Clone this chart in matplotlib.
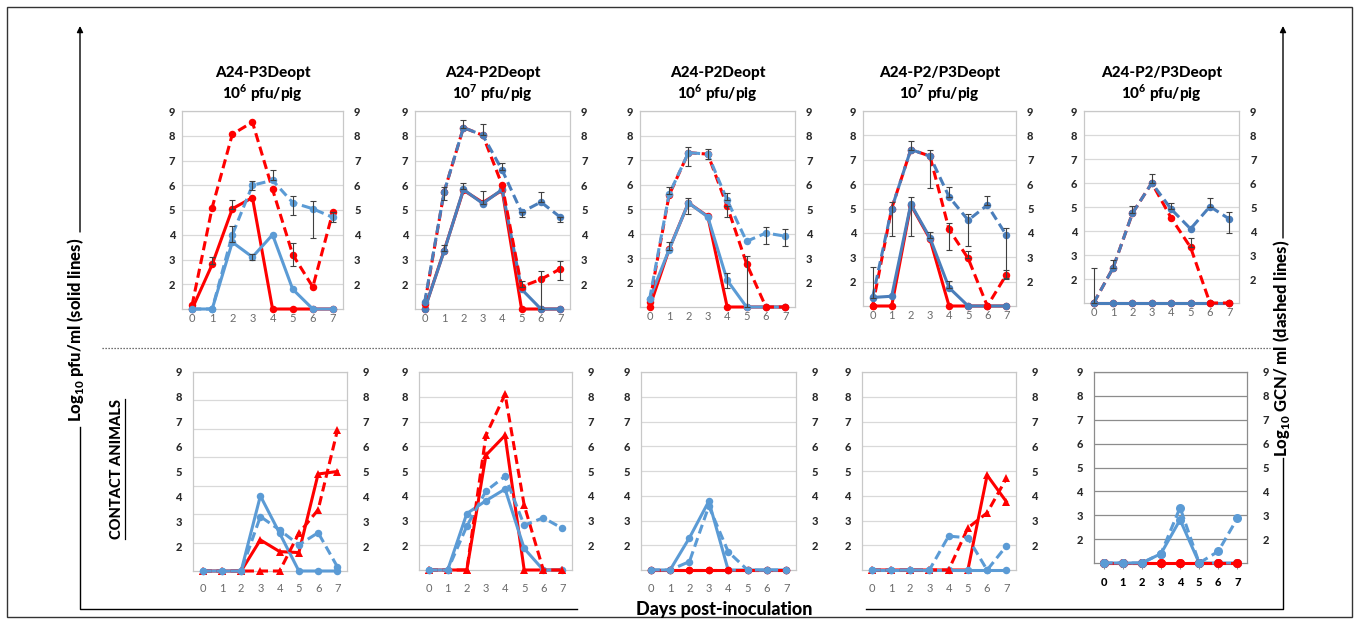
import matplotlib
matplotlib.use("Agg")
import matplotlib.pyplot as plt
from matplotlib.patches import Rectangle

plt.rcParams['font.family'] = ['Lato', 'DejaVu Sans']
plt.rcParams['mathtext.fontset'] = 'custom'
plt.rcParams['mathtext.rm'] = 'Lato'
plt.rcParams['mathtext.bf'] = 'Lato:black'

W, H = 1358, 622
BOLD = 'black'

days = list(range(8))
titles = ["A24-P3Deopt", "A24-P2Deopt", "A24-P2Deopt", "A24-P2/P3Deopt", "A24-P2/P3Deopt"]
doses = ["6", "7", "6", "7", "6"]
y_ticks = list(range(2, 10))

# inoculated animals (top row), log10 values per day
top_red_solid = [
    [1, 2.8, 5.05, 5.5, 1, 1, 1, 1],
    [1, 3.35, 5.8, 5.3, 5.8, 1, 1, 1],
    [1, 3.35, 5.25, 4.7, 1, 1, 1, 1],
    [1, 1, 5.15, 3.75, 1, 1, 1, 1],
    [1, 1, 1, 1, 1, 1, 1, 1],
]
top_blue_solid = [
    [1, 1, 3.7, 3.1, 4.0, 1.8, 1, 1],
    [1, 3.33, 5.83, 5.26, 5.83, 1.8, 1, 1],
    [1.34, 3.34, 5.25, 4.68, 2.09, 1, 1, 1],
    [1.35, 1.4, 5.18, 3.8, 1.75, 1, 1, 1],
    [1, 1, 1, 1, 1, 1, 1, 1],
]
top_red_dash = [
    [1.15, 5.1, 8.06, 8.55, 5.83, 3.2, 1.89, 4.93],
    [1.2, 5.72, 8.33, 8.02, 6.0, 1.9, 2.2, 2.62],
    [1.2, 5.56, 7.3, 7.24, 5.11, 2.77, 1, 1],
    [1.0, 5.0, 7.42, 7.15, 4.14, 2.95, 1, 2.29],
    [1, 2.46, 4.74, 6.0, 4.54, 3.32, 1, 1],
]
top_blue_dash = [
    [1, 1, 4.0, 6.0, 6.2, 5.3, 5.05, 4.7],
    [1.28, 5.72, 8.33, 8.02, 6.61, 4.91, 5.32, 4.71],
    [1.34, 5.6, 7.3, 7.24, 5.36, 3.68, 4.02, 3.89],
    [1.34, 5.0, 7.42, 7.15, 5.48, 4.52, 5.14, 3.9],
    [1, 2.46, 4.74, 6.0, 4.91, 4.09, 5.02, 4.5],
]
# error bars: (series, day, lower, upper)
top_err = [
    [("rs", 1, 0, 0.3), ("rs", 2, 0, 0.35), ("bd", 2, 0.3, 0.35), ("bd", 3, 0.2, 0.17),
     ("bs", 3, 0.13, 0.13), ("bd", 4, 0, 0.4), ("bd", 5, 0.5, 0.25), ("rd", 5, 0.45, 0.45),
     ("bd", 6, 1.2, 0.3), ("bd", 7, 0.2, 0.2)],
    [("bd", 1, 0.3, 0.2), ("bs", 1, 0, 0.27), ("bd", 2, 0, 0.3), ("bs", 2, 0, 0.25),
     ("bd", 3, 0, 0.45), ("bs", 3, 0, 0.5), ("bd", 4, 0, 0.3), ("rd", 5, 0, 0.25),
     ("bd", 5, 0.2, 0), ("bd", 6, 0, 0.4), ("rd", 6, 1.2, 0.35), ("bd", 7, 0.2, 0),
     ("rd", 7, 0.45, 0.3)],
    [("bd", 1, 0, 0.3), ("bs", 1, 0, 0.3), ("bd", 2, 0.55, 0.25), ("bs", 2, 0.45, 0.2),
     ("bd", 3, 0.2, 0.2), ("bd", 4, 0, 0.3), ("rd", 4, 0.45, 0), ("bs", 4, 0.3, 0.3),
     ("rd", 5, 1.77, 0.3), ("bd", 6, 0.45, 0.25), ("bd", 7, 0.4, 0.3)],
    [("bd", 0, 0, 1.26), ("bd", 1, 1.14, 0.27), ("bd", 2, 0, 0.36), ("bs", 2, 1.3, 0.3),
     ("bd", 3, 1.3, 0.27), ("bs", 3, 0, 0.24), ("bd", 4, 0, 0.42), ("rd", 4, 0.85, 0.27),
     ("bs", 4, 0, 0.26), ("bd", 5, 1.05, 0.25), ("rd", 5, 0, 0.3), ("bd", 6, 0, 0.36),
     ("bd", 7, 1.75, 0.28), ("rd", 7, 0.2, 0.2)],
    [("bd", 0, 0, 1.46), ("bd", 1, 0, 0.33), ("bd", 2, 0, 0.3), ("bd", 3, 0, 0.38),
     ("bd", 4, 0, 0.25), ("rd", 5, 0, 0.4), ("bd", 6, 0, 0.35), ("bd", 7, 0.6, 0.3)],
]

# contact animals (bottom row)
bot_red_solid = [
    [1, 1, 1, 2.25, 1.78, 1.74, 4.9, 5.0],
    [1, 1, 1, 5.64, 6.44, 1, 1, 1],
    [1, 1, 1, 1, 1, 1, 1, 1],
    [1, 1, 1, 1, 1, 1, 4.83, 3.76],
    [1, 1, 1, 1, 1, 1, 1, 1],
]
bot_blue_solid = [
    [1, 1, 1, 4.02, 2.52, 1, 1, 1],
    [1, 1, 3.28, 3.8, 4.27, 1.87, 1, 1],
    [1, 1, 2.3, 3.78, 1, 1, 1, 1],
    [1, 1, 1, 1, 1, 1, 1, 1],
    [1, 1, 1, 1.39, 2.81, 1, 1, 1],
]
bot_red_dash = [
    [1, 1, 1, 1, 1, 2.52, 3.46, 6.65],
    [1, 1, 1, 6.44, 8.1, 3.62, 1, 1],
    [1, 1, 1, 1, 1, 1, 1, 1],
    [1, 1, 1, 1, 1, 2.7, 3.31, 4.7],
    [1, 1, 1, 1, 1, 1, 1, 1],
]
bot_blue_dash = [
    [1, 1, 1, 3.19, 2.65, 2.05, 2.54, 1.17],
    [1, 1, 2.77, 4.19, 4.79, 2.81, 3.11, 2.68],
    [1, 1, 1.34, 3.58, 1.74, 1, 1, 1],
    [1, 1, 1, 1, 2.37, 2.3, 1, 1.97],
    [1, 1, 1, 1.39, 3.32, 1, 1.49, 2.88],
]
bot_red_marker = ['^', '^', 'o', '^', 'o']

RED = '#FF0000'
BLUE_LIGHT = '#5B9BD5'
BLUE_DARK = '#4A7EBB'
top_blue = [BLUE_LIGHT, BLUE_DARK, BLUE_LIGHT, BLUE_DARK, BLUE_DARK]

# panel boxes in pixels: left, top, right, bottom
top_boxes = [(182, 111, 343, 309), (415, 111, 570, 309), (640, 111, 795, 307),
             (863, 111, 1016, 306), (1084, 111, 1239, 303)]
bot_boxes = [(193, 372, 347, 571), (419, 372, 572, 570), (641, 372, 796, 570),
             (862, 372, 1016, 570), (1094, 372, 1247, 563)]

DASH = (0, (3, 1.6))

fig = plt.figure(figsize=(W / 100, H / 100), dpi=100)

overlay = fig.add_axes([0, 0, 1, 1], zorder=-1)
overlay.set_xlim(0, W)
overlay.set_ylim(H, 0)
overlay.axis('off')


def make_axes(box):
    l, t, r, b = box
    return fig.add_axes([l / W, 1 - b / H, (r - l) / W, (b - t) / H])


def style_axes(ax, grid_vals, xpad, ypad, dark=False):
    ax.set_xlim(-0.5, 7.5)
    ax.set_ylim(1, 9)
    grid_col = '#8C8C8C' if dark else '#D9D9D9'
    for g in grid_vals:
        ax.axhline(g, color=grid_col, lw=0.9, zorder=0)
    for s in ax.spines.values():
        s.set_color('#8C8C8C' if dark else '#C8C8C8')
        s.set_linewidth(0.9)
    ax.set_xticks(days)
    ax.set_xticklabels([str(d) for d in days])
    ax.tick_params(axis='x', length=4 if dark else 0, direction='out', pad=xpad,
                   labelsize=8, labelcolor='#000000' if dark else '#6A6A6A',
                   color='#8C8C8C')
    if dark:
        for t in ax.get_xticklabels():
            t.set_fontweight(BOLD)
    ax.set_yticks(y_ticks)
    ax.set_yticklabels([str(v) for v in y_ticks], fontweight=BOLD)
    ax.tick_params(axis='y', length=0, pad=ypad, labelsize=8, labelcolor='#2B2B2B')
    sec = ax.secondary_yaxis('right')
    sec.set_ticks(y_ticks, labels=[str(v) for v in y_ticks], fontweight=BOLD)
    sec.tick_params(length=0, pad=ypad + 3, labelsize=8, labelcolor='#2B2B2B')
    sec.spines['right'].set_visible(False)


def draw_lines(ax, rs, bs, rd, bd, blue, red_marker, ms):
    kw = dict(lw=2.2, clip_on=False, markeredgewidth=0)
    ax.plot(days, rs, color=RED, marker=red_marker, ms=ms, zorder=3, **kw)
    ax.plot(days, bs, color=blue, marker='o', ms=ms, zorder=4, **kw)
    ax.plot(days, rd, color=RED, ls=DASH, marker=red_marker, ms=ms, zorder=5, **kw)
    ax.plot(days, bd, color=blue, ls=DASH, marker='o', ms=ms, zorder=6, **kw)


for i in range(5):
    ax = make_axes(top_boxes[i])
    style_axes(ax, y_ticks, xpad=3, ypad=5)
    draw_lines(ax, top_red_solid[i], top_blue_solid[i], top_red_dash[i],
               top_blue_dash[i], top_blue[i], 'o', 5.4)
    series = {'rs': top_red_solid[i], 'bs': top_blue_solid[i],
              'rd': top_red_dash[i], 'bd': top_blue_dash[i]}
    for key, d, lo, hi in top_err[i]:
        ax.errorbar(d, series[key][d], yerr=[[lo], [hi]], fmt='none', ecolor='#404040',
                    elinewidth=0.8, capsize=2.5, capthick=0.8, zorder=7, clip_on=False)
    ax.set_title(titles[i] + "\n10$^\\mathbf{" + doses[i] + "}$ pfu/pig",
                 fontsize=11, fontweight=BOLD, pad=8.5, linespacing=1.2)

for i in range(5):
    ax = make_axes(bot_boxes[i])
    if i == 0:
        grid = [1 + 8 * k / 7 for k in range(1, 8)]
    else:
        grid = y_ticks
    dark = (i == 4)
    style_axes(ax, grid, xpad=9 if not dark else 6, ypad=8, dark=dark)
    ms = 6.5 if dark else 5.4
    draw_lines(ax, bot_red_solid[i], bot_blue_solid[i], bot_red_dash[i],
               bot_blue_dash[i], BLUE_LIGHT, bot_red_marker[i], ms)

# frame, arrows and axis captions
overlay.add_patch(Rectangle((7, 7), 1345, 610, fill=False, ec='#333333', lw=1.0))
arrow = dict(arrowstyle='-|>', color='black', lw=1.0, mutation_scale=9, shrinkA=0, shrinkB=0)
overlay.annotate('', xy=(80, 26), xytext=(80, 232), arrowprops=arrow)
overlay.plot([80, 80, 577], [427, 609, 609], color='black', lw=1.0)
overlay.annotate('', xy=(1283, 26), xytext=(1283, 238), arrowprops=arrow)
overlay.plot([866, 1283, 1283], [609, 609, 458], color='black', lw=1.0)
overlay.plot([102, 1270], [348, 348], color='#444444', lw=0.9, ls=(0, (1, 1.4)))

overlay.text(75, 330, "Log$_\\mathbf{10}$ pfu/ml (solid lines)", rotation=90,
             ha='center', va='center', fontsize=12, fontweight=BOLD)
overlay.text(1281, 348, "Log$_\\mathbf{10}$ GCN/ ml (dashed lines)", rotation=90,
             ha='center', va='center', fontsize=12, fontweight=BOLD)
overlay.text(724, 610, "Days post-inoculation", ha='center', va='center',
             fontsize=13, fontweight=BOLD)
contact = overlay.text(117, 469, "CONTACT ANIMALS", rotation=90, ha='center',
                       va='center', fontsize=10.5, fontweight=BOLD)

fig.canvas.draw()
bb = contact.get_window_extent().transformed(overlay.transData.inverted())
ux = max(bb.x0, bb.x1) + 1
overlay.plot([ux, ux], [bb.y0, bb.y1], color='black', lw=0.9)

fig.savefig("out.png", dpi=100)
